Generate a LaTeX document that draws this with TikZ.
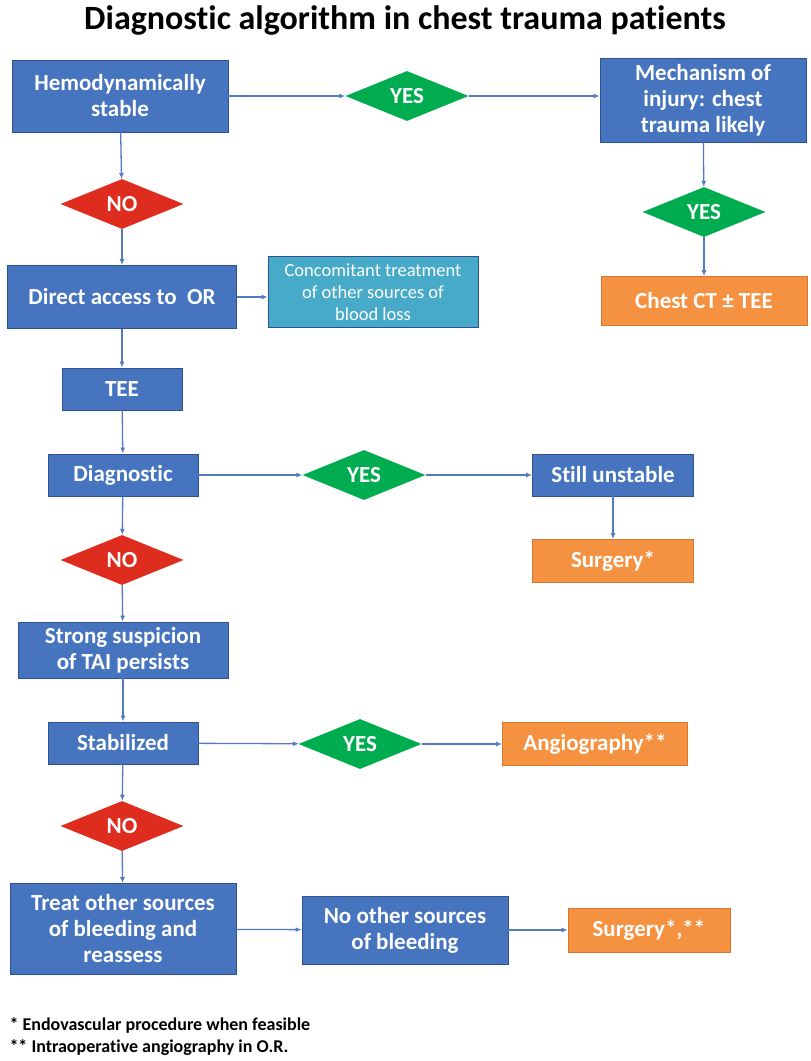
\documentclass[tikz,border=0pt]{standalone}
\usepackage{fontspec}
\setmainfont{Carlito}[Ligatures=NoCommon]
\usetikzlibrary{shapes.geometric,arrows.meta}
\definecolor{boxblue}{RGB}{70,116,190}
\definecolor{boxline}{RGB}{47,82,143}
\definecolor{yesgreen}{RGB}{0,172,80}
\definecolor{nored}{RGB}{222,44,30}
\definecolor{outorange}{RGB}{245,146,66}
\definecolor{outline}{RGB}{214,118,50}
\definecolor{sidecyan}{RGB}{70,170,200}
\definecolor{arrowblue}{RGB}{84,122,196}
\tikzset{
  bluebox/.style={draw=boxline,fill=boxblue,text=white,font=\bfseries\fontsize{23}{26}\selectfont,
    align=center,inner sep=0pt,line width=0.8pt},
  orangebox/.style={bluebox,draw=outline,fill=outorange},
  cyanbox/.style={bluebox,draw=boxline,fill=sidecyan,font=\fontsize{18.5}{22}\selectfont},
  yesdia/.style={diamond,fill=yesgreen,text=white,font=\bfseries\fontsize{23}{26}\selectfont,
    inner sep=0pt,minimum width=123pt,minimum height=50pt,aspect=2.46},
  nodia/.style={yesdia,fill=nored},
  arr/.style={draw=arrowblue,line width=1.3pt,-{Latex[length=6pt,width=5pt]}}
}
\begin{document}
\begin{tikzpicture}[x=1pt,y=-1pt]
    \useasboundingbox (0,0) rectangle (811,1061);
    % title
    \node (title) [font=\bfseries\fontsize{34}{38}\selectfont] at (405,20)
     {Diagnostic algorithm in chest trauma patients};
    % top row
    \node (hemo) [bluebox,minimum width=216pt,minimum height=72pt] at (120,96)
     {Hemodynamically\\stable};
    \node (yes1) [yesdia] at (407,96) {YES};
    \node (mech) [bluebox,minimum width=206pt,minimum height=84pt] at (703,100)
     {Mechanism of\\injury: chest\\trauma likely};
    \node (yes2) [yesdia] at (704,212) {YES};
    \node (chestct) [orangebox,minimum width=206pt,minimum height=49pt] at (704,301)
     {Chest CT ± TEE};
    % unstable branch
    \node (no1) [nodia] at (122,204) {NO};
    \node (direct) [bluebox,minimum width=229pt,minimum height=63pt] at (122,297)
     {Direct access to\ \ OR};
    \node (conc) [cyanbox,minimum width=210pt,minimum height=71pt] at (373,292)
     {Concomitant treatment\\of other sources of\\blood loss};
    \node (tee) [bluebox,minimum width=120pt,minimum height=42pt] at (122,389) {TEE};
    \node (diag) [bluebox,minimum width=150pt,minimum height=42pt] at (123,475) {Diagnostic};
    \node (yes3) [yesdia] at (364,475) {YES};
    \node (still) [bluebox,minimum width=161pt,minimum height=42pt] at (613,475) {Still unstable};
    \node (surg1) [orangebox,minimum width=161pt,minimum height=43pt] at (613,561) {Surgery*};
    \node (no2) [nodia] at (122,560) {NO};
    \node (strong) [bluebox,minimum width=210pt,minimum height=56pt] at (123,650)
     {Strong suspicion\\of TAI persists};
    \node (stab) [bluebox,minimum width=150pt,minimum height=42pt] at (123,743) {Stabilized};
    \node (yes4) [yesdia] at (360,744) {YES};
    \node (angio) [orangebox,minimum width=185pt,minimum height=43pt] at (595,744) {Angiography**};
    \node (no3) [nodia] at (122,826) {NO};
    \node (treat) [bluebox,minimum width=226pt,minimum height=91pt] at (123,929)
     {Treat other sources\\of bleeding and\\reassess};
    \node (noother) [bluebox,minimum width=206pt,minimum height=68pt] at (405,930)
     {No other sources\\of bleeding};
    \node (surg2) [orangebox,minimum width=162pt,minimum height=44pt] at (649,930) {Surgery*,**};
    % footnotes
    \node (fn1) [anchor=west,font=\bfseries\fontsize{18}{20}\selectfont] at (6,1025)
     {* Endovascular procedure when feasible};
    \node (fn2) [anchor=west,font=\bfseries\fontsize{18}{20}\selectfont] at (6,1048)
     {** Intraoperative angiography in O.R.};
    % arrows
    \draw [arr] (hemo) -- (yes1);
    \draw [arr] (yes1.east) -- (yes1.east -| mech.west);
    \draw [arr] (mech) -- (yes2);
    \draw [arr] (yes2) -- (chestct);
    \draw [arr] (hemo) -- (no1);
    \draw [arr] (no1) -- (direct);
    \draw [arr] (direct.east) -- (direct.east -| conc.west);
    \draw [arr] (direct) -- (tee);
    \draw [arr] (tee) -- (diag);
    \draw [arr] (diag) -- (yes3);
    \draw [arr] (yes3) -- (still);
    \draw [arr] (still) -- (surg1);
    \draw [arr] (diag) -- (no2);
    \draw [arr] (no2) -- (strong);
    \draw [arr] (strong) -- (stab);
    \draw [arr] (stab) -- (yes4);
    \draw [arr] (yes4) -- (angio);
    \draw [arr] (stab) -- (no3);
    \draw [arr] (no3) -- (treat);
    \draw [arr] (treat) -- (noother);
    \draw [arr] (noother) -- (surg2);
\end{tikzpicture}
\end{document}
